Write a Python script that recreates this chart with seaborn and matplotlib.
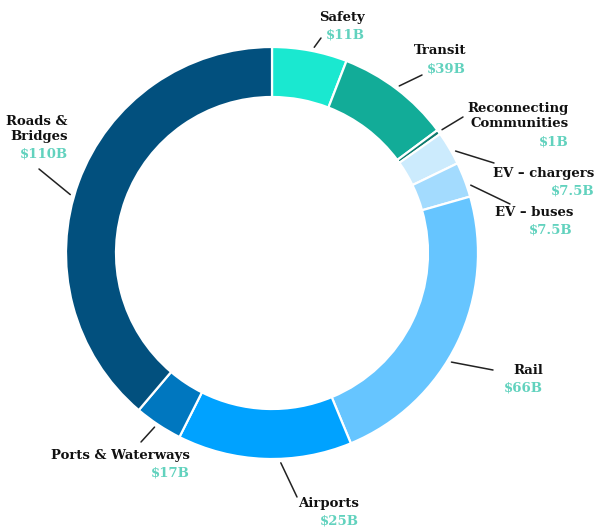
import numpy as np
import matplotlib.pyplot as plt
import seaborn as sns

sns.set_style("white")
plt.rcParams['font.family'] = ['DejaVu Serif']

# Data (clockwise from 12 o'clock)
categories = ["Safety", "Transit", "Reconnecting\nCommunities", "EV \u2013 chargers",
              "EV \u2013 buses", "Rail", "Airports", "Ports & Waterways", "Roads &\nBridges"]
amounts = ["$11B", "$39B", "$1B", "$7.5B", "$7.5B", "$66B", "$25B", "$17B", "$110B"]
# slice sizes in degrees as drawn on the ring
shares = [21.2, 32.2, 1.3, 9.5, 9.9, 83.4, 49.2, 13.6, 139.7]
colors = ["#1AE8D0", "#12AC98", "#0E7A6E", "#CCEBFD", "#A3DBFE",
          "#66C5FF", "#00A2FF", "#0077BF", "#02507E"]

# label layout in pixels from top-left: right edge, name y, value y
label_x = [365, 466, 569, 594, 573, 543, 359, 190, 68]
name_y = [17, 50, 116, 173, 213, 371, 504, 456, 129]
value_y = [35, 69, 142, 191, 230, 388, 521, 473, 154]
# outer end of leader lines, and small angular nudge of the inner end
line_end = [(321, 38), (422, 75), (463, 117), (494, 163), (510, 204),
            (493, 370), (297, 497), (141, 442), (39, 169)]
nudge = [-1, 0, 0, -1.5, -2, -5.5, 4.5, -0.5, 4]

W, H = 596, 528
cx, cy, R = 272, H - 253, 206

fig = plt.figure(figsize=(W / 100, H / 100), dpi=100)
ax = fig.add_axes([0, 0, 1, 1])
wedges, _ = ax.pie(shares, colors=colors, startangle=90, counterclock=False,
                   radius=R, center=(cx, cy),
                   wedgeprops=dict(width=50, edgecolor="white", linewidth=1.6))

teal = "#62D2BE"
for i, w in enumerate(wedges):
    mid = np.deg2rad((w.theta1 + w.theta2) / 2 + nudge[i])
    start = (cx + 210 * np.cos(mid), cy + 210 * np.sin(mid))
    ex, ey = line_end[i]
    ax.plot([start[0], ex], [start[1], H - ey], color="#222222", lw=1.1)
    ax.text(label_x[i], H - name_y[i], categories[i], ha="right", va="center",
            fontsize=9.5, fontweight="bold", color="#111111", linespacing=1.25,
            multialignment="right")
    ax.text(label_x[i], H - value_y[i], amounts[i], ha="right", va="center",
            fontsize=9.5, fontweight="bold", color=teal)

ax.set_xlim(0, W)
ax.set_ylim(0, H)
ax.set_aspect("equal")
ax.axis("off")

fig.savefig("out.png", dpi=100, facecolor="white")
